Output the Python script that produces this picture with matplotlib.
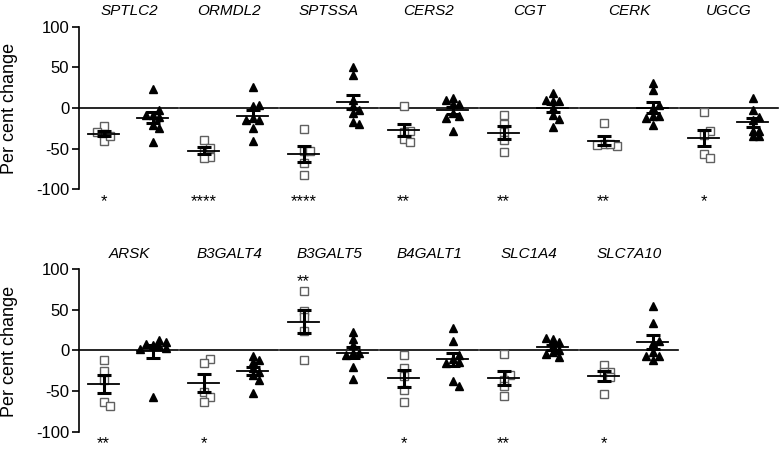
import numpy as np
import matplotlib.pyplot as plt

plt.rcParams['font.family'] = ['Liberation Sans', 'DejaVu Sans']
plt.rcParams['axes.unicode_minus'] = False

# ---- data (per cent change), squares = first series, triangles = second ----
genes_top = ["SPTLC2", "ORMDL2", "SPTSSA", "CERS2", "CGT", "CERK", "UGCG"]
sq_top = [
    [-22, -32, -40, -34, -29],
    [-39, -54, -60, -61, -49],
    [-26, -53, -53, -68, -83],
    [2, -28, -29, -38, -42],
    [-9, -20, -29, -39, -54],
    [-19, -44, -47, -46, -44],
    [-5, -28, -33, -56, -62],
]
tri_top = [
    [23, -8, -11, -8, -3, -21, -25, -42],
    [26, 4, 2, -12, -15, -15, -24, -40],
    [51, 41, 10, 3, -3, -6, -17, -20],
    [10, 12, 5, 5, -10, -12, -6, -28],
    [10, 9, 9, 19, 0, -8, -13, -23],
    [31, 22, 4, 0, -10, -12, -10, -21],
    [12, -2, -11, -15, -28, -35, -35, -28],
]
stars_top = ["*", "****", "****", "**", "**", "**", "*"]

genes_bot = ["ARSK", "B3GALT4", "B3GALT5", "B4GALT1", "SLC1A4", "SLC7A10"]
sq_bot = [
    [-12, -25, -37, -63, -69],
    [-10, -16, -51, -57, -64],
    [73, 49, 41, 24, -12],
    [-6, -22, -31, -49, -64],
    [-4, -30, -36, -44, -56],
    [-18, -26, -27, -33, -54],
]
tri_bot = [
    [13, 10, 8, 7, 5, 3, 2, -57],
    [-7, -12, -14, -22, -27, -30, -36, -52],
    [23, 14, 7, -3, -3, -6, -21, -35],
    [28, 11, -6, -10, -14, -16, -38, -44],
    [15, 14, 10, 5, 1, -2, -4, -8],
    [55, 34, 12, 9, -2, -7, -12, -7],
]
stars_bot = ["**", "*", "**", "*", "**", "*"]
stars_bot_above = [False, False, True, False, False, False]


def swarm(vals, dx=0.065, dy=6.5):
    # simple beeswarm offsets so markers don't pile up
    vals = np.asarray(vals, float)
    order = np.argsort(np.abs(vals - np.median(vals)))
    xs = np.zeros(len(vals))
    placed = []
    cands = [0.0]
    for s in range(1, 12):
        cands += [s * dx / 2, -s * dx / 2]
    for i in order:
        for off in cands:
            if all(abs(vals[i] - vals[j]) >= dy or abs(off - xs[j]) >= dx for j in placed):
                break
        xs[i] = off
        placed.append(i)
    return xs


def draw_series(ax, xc, vals, marker):
    vals = np.asarray(vals, float)
    xs = xc + swarm(vals)
    if marker == 's':
        ax.plot(xs, vals, ls='none', marker='s', ms=5.8, mfc='white', mec='#606060', mew=1.0, zorder=2)
    else:
        ax.plot(xs, vals, ls='none', marker='^', ms=6, color='black', zorder=2)
    m = vals.mean()
    sem = vals.std(ddof=1) / np.sqrt(len(vals))
    ax.plot([xc - 0.155, xc + 0.155], [m, m], color='black', lw=1.3, zorder=3)
    ax.errorbar(xc, m, yerr=sem, fmt='none', ecolor='black', elinewidth=2.2,
                capsize=5, capthick=2.2, zorder=3)


def draw_panel(ax, genes, sq, tri, stars, above=None):
    for i, g in enumerate(genes):
        ax.plot([i + 0.01, i + 0.985], [0, 0], color='black', lw=1.2, zorder=1)
        draw_series(ax, i + 0.245, sq[i], 's')
        draw_series(ax, i + 0.735, tri[i], '^')
        ax.text(i + 0.5, 119, g, ha='center', va='center', fontsize=11,
                style='italic', clip_on=False)
        if above is not None and above[i]:
            ax.text(i + 0.245, max(sq[i]) + 11, stars[i], ha='center', va='center',
                    fontsize=12, clip_on=False)
        else:
            ax.text(i + 0.245, -115, stars[i], ha='center', va='center',
                    fontsize=12, clip_on=False)
    ax.set_xlim(0, 7)
    ax.set_ylim(-100, 100)
    ax.set_yticks([-100, -50, 0, 50, 100])
    ax.set_xticks([])
    for s in ['top', 'right', 'bottom']:
        ax.spines[s].set_visible(False)
    ax.spines['left'].set_linewidth(1.2)
    ax.tick_params(axis='y', length=5, width=1.2, labelsize=12, pad=2)


fig = plt.figure(figsize=(7.8, 4.58), dpi=100)
ax1 = fig.add_axes([79 / 780, 1 - 189.3 / 458, 700 / 780, 162.6 / 458])
ax2 = fig.add_axes([79 / 780, 1 - 431.7 / 458, 700 / 780, 162.6 / 458])

draw_panel(ax1, genes_top, sq_top, tri_top, stars_top)
draw_panel(ax2, genes_bot, sq_bot, tri_bot, stars_bot, stars_bot_above)

fig.text(10 / 780, 1 - 108 / 458, "Per cent change", rotation=90, ha='center', va='center', fontsize=13)
fig.text(10 / 780, 1 - 351 / 458, "Per cent change", rotation=90, ha='center', va='center', fontsize=13)

fig.savefig("out.png", dpi=100)
